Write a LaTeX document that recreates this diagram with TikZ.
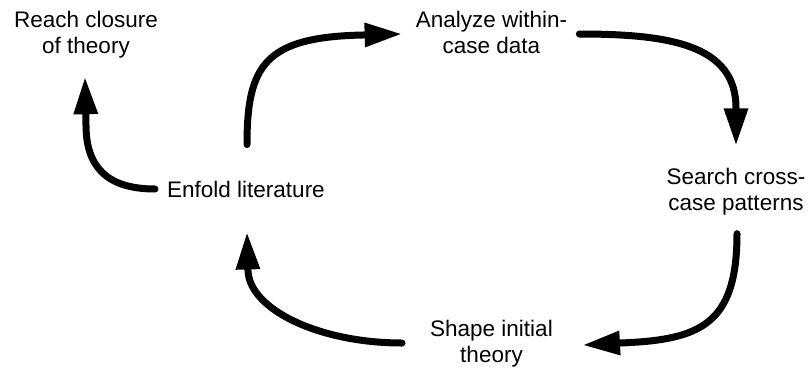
\documentclass[tikz,border=0pt]{standalone}
\usepackage{fontspec}
\setmainfont{Liberation Sans}
\usetikzlibrary{arrows.meta,calc}

\tikzset{
  label/.style={inner sep=0pt, align=center, font=\fontsize{22.5}{26}\selectfont},
  flow/.style={line width=7pt, line cap=round,
    -{Triangle[length=36pt,width=25pt,line width=0pt]}},
}

\begin{document}
\begin{tikzpicture}[x=1pt,y=-1pt]
  \useasboundingbox (0,0) rectangle (809,373);

  % steps of the cycle
  \node[label] (reach)   at (86,34.5)  {Reach closure\\of theory};
  \node[label] (analyze) at (491.5,32) {Analyze within-\\case data};
  \node[label] (search)  at (736,192)  {Search cross-\\case patterns};
  \node[label] (enfold)  at (246,189)  {Enfold literature};
  \node[label] (shape)   at (491.5,344){Shape initial\\theory};

  % enfold literature -> reach closure
  \draw[flow] ($(enfold.west)+(-12,0)$)
      .. controls (105,189) and (86,165) .. (86,125)
      -- ($(reach.south)+(-1,20)$);

  % enfold literature -> analyze within-case data
  \draw[flow] ($(enfold.north)+(1,-36)$)
      .. controls (247,65) and (265,37) .. (363,35)
      -- ($(analyze.west)+(-15,2)$);

  % analyze within-case data -> search cross-case patterns
  \draw[flow] ($(analyze.east)+(12,2)$)
      .. controls (670,34) and (736,45) .. (736,108)
      -- ($(search.north)+(0,-24)$);

  % search cross-case patterns -> shape initial theory
  \draw[flow] ($(search.south)+(1,18)$)
      .. controls (737,325) and (700,340) .. (620,343)
      -- ($(shape.east)+(31,1)$);

  % shape initial theory -> enfold literature
  \draw[flow] ($(shape.west)+(-28,-1)$)
      .. controls (320,343) and (250,310) .. (248,271)
      -- ($(enfold.south)+(1,36)$);
\end{tikzpicture}
\end{document}
